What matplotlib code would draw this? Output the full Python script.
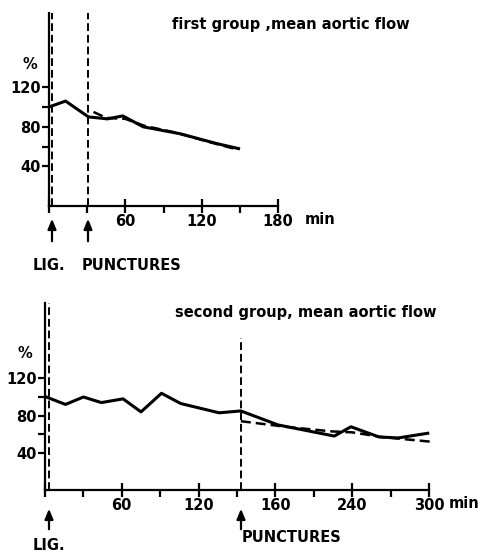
import numpy as np
import matplotlib
matplotlib.use("Agg")
import matplotlib.pyplot as plt

plt.rcParams['font.family'] = ['DejaVu Sans']
plt.rcParams['font.weight'] = 'bold'

# first group (time in min, flow in %)
t1_solid = [0, 13, 31, 46, 58, 74, 103, 132, 149]
v1_solid = [100, 106, 90, 88, 91, 80, 73, 63, 58]
t1_dash = [35, 45, 60, 75, 100, 125, 148]
v1_dash = [95, 89, 88, 81, 74, 65, 57]
lig1, punct1 = 2, 31
xticks1 = [0, 60, 120, 180]
xlabels1 = ["", "60", "120", "180"]

# second group
t2_solid = [1, 16, 30, 44, 61, 75, 91, 106, 136, 153, 182, 226, 239, 261, 276, 299]
v2_solid = [100, 92, 100, 94, 98, 84, 104, 93, 83, 85, 70, 58, 68, 57, 56, 61]
t2_dash = [153, 188, 224, 240, 263, 301]
v2_dash = [74, 68, 63, 62, 57, 52]
lig2, punct2 = 3, 153
xticks2 = [0, 60, 120, 180, 240, 300]
xlabels2 = ["", "60", "120", "160", "240", "300"]

yticks = [40, 80, 120]
yminor = [60, 100]

W, H = 480, 554
fig = plt.figure(figsize=(W / 100, H / 100), dpi=100)
FS = 10.5


def panel(x0, y0, sx, sy, ytop, xend, xticks, xlabels, xminor,
          ts, vs, td, vd, lig, punct, punct_top, title, title_xy, pct_xy,
          lig_txt_xy, pun_txt_xy, min_x, arrow_rows):
    right_px = 480
    ax = fig.add_axes([x0 / W, (H - y0) / H, (right_px - x0) / W, ytop * sy / H])
    ax.set_xlim(0, (right_px - x0) / sx)
    ax.set_ylim(0, ytop)
    for s in ['top', 'right']:
        ax.spines[s].set_visible(False)
    ax.spines['bottom'].set_bounds(0, xend)
    ax.spines['bottom'].set_linewidth(1.6)
    ax.spines['left'].set_linewidth(1.6)
    ax.set_xticks(xticks, xlabels)
    ax.set_xticks(xminor, minor=True)
    ax.set_yticks(yticks, [str(v) for v in yticks])
    ax.set_yticks(yminor, minor=True)
    ax.tick_params(axis='x', which='major', direction='inout', length=10, width=1.6,
                   pad=1, labelsize=FS)
    ax.tick_params(axis='x', which='minor', direction='out', length=5, width=1.6)
    ax.tick_params(axis='y', which='major', direction='out', length=5, width=1.6,
                   pad=1, labelsize=FS)
    ax.tick_params(axis='y', which='minor', direction='out', length=5, width=1.6)

    ax.plot(ts, vs, color='black', lw=2.2, solid_joinstyle='round')
    ax.plot(td, vd, color='black', lw=1.8, ls=(0, (4, 2)))
    ax.axvline(lig, color='black', lw=1.4, ls=(0, (4, 2)))
    ax.plot([punct, punct], [0, punct_top], color='black', lw=1.4, ls=(0, (4, 2)))

    def px(x, y):
        return ((x - x0) / sx, (y0 - y) / sy)

    for xa, ya0, ya1 in arrow_rows:
        ax.annotate("", xy=px(xa, ya1), xytext=px(xa, ya0), annotation_clip=False,
                    arrowprops=dict(arrowstyle='-|>,head_width=0.25,head_length=0.6',
                                    color='black', lw=1.6))
    ax.text(*px(*lig_txt_xy), "LIG.", fontsize=FS, va='center', ha='left', clip_on=False)
    ax.text(*px(*pun_txt_xy), "PUNCTURES", fontsize=FS, va='center', ha='left', clip_on=False)
    ax.text(*px(min_x, y0 + 14), "min", fontsize=FS, va='center', ha='left', clip_on=False)
    ax.text(*px(*title_xy), title, fontsize=10.5, va='center', ha='left', clip_on=False)
    ax.text(*px(*pct_xy), "%", fontsize=FS, va='center', ha='center', clip_on=False)
    return ax


panel(49, 206, 229 / 180, 0.99, 195, 180, xticks1, xlabels1, [30, 90, 150],
      t1_solid, v1_solid, t1_dash, v1_dash, lig1, punct1, 195,
      "first group ,mean aortic flow", (172, 25), (30, 65),
      (33, 266), (82, 266), 305,
      [(52, 244, 216), (88, 244, 216)])

panel(45, 490, 384 / 300, 0.93, 201, 300, xticks2, xlabels2, [30, 90, 150, 210, 270],
      t2_solid, v2_solid, t2_dash, v2_dash, lig2, punct2, 163,
      "second group, mean aortic flow", (175, 312), (25, 353),
      (33, 546), (242, 538), 449,
      [(49, 532, 506), (241, 532, 506)])

fig.savefig("out.png", dpi=100)
